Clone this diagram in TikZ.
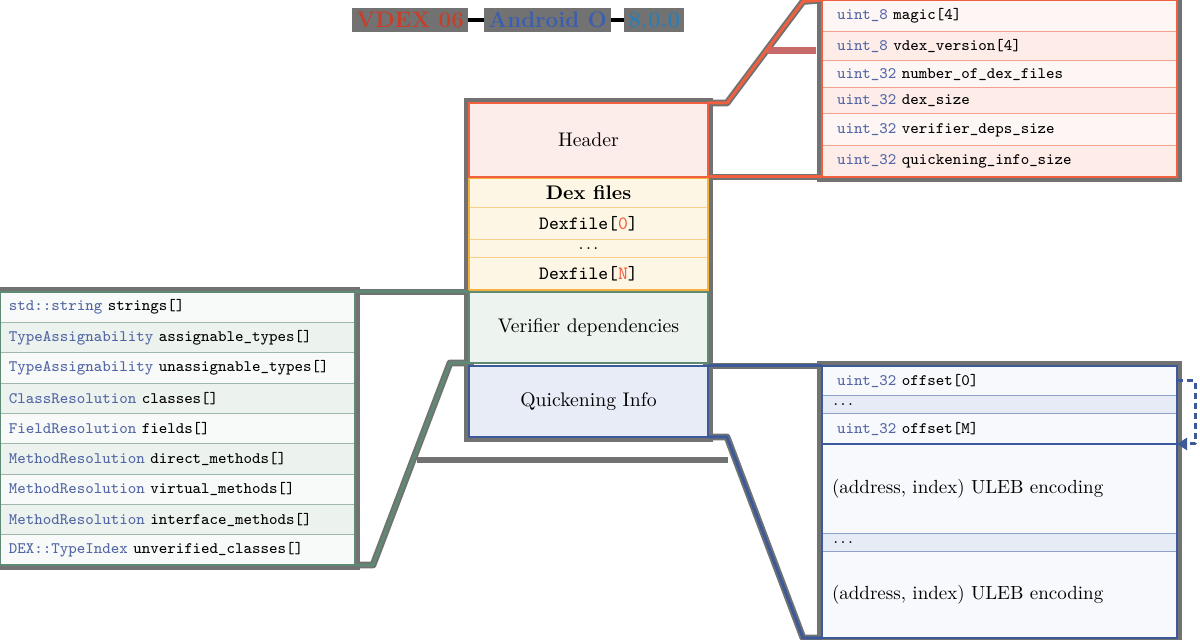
\documentclass[tikz,border=0pt]{standalone}
\usetikzlibrary{arrows.meta}
\definecolor{hdr}{HTML}{F0603F}
\definecolor{hdrsep}{HTML}{F4A08C}
\definecolor{hdrA}{HTML}{FEF6F4}
\definecolor{hdrB}{HTML}{FDECE8}
\definecolor{hdrfill}{HTML}{FDEDEA}
\definecolor{dexline}{HTML}{F5B23C}
\definecolor{dexsep}{HTML}{F7D089}
\definecolor{dexfill}{HTML}{FDF6E4}
\definecolor{ver}{HTML}{5E8A74}
\definecolor{versep}{HTML}{9DB8AB}
\definecolor{verA}{HTML}{F8FAF9}
\definecolor{verB}{HTML}{ECF2EE}
\definecolor{verfill}{HTML}{EDF3EF}
\definecolor{qi}{HTML}{3C5A9A}
\definecolor{qisep}{HTML}{8FA1CB}
\definecolor{qiA}{HTML}{F8F9FD}
\definecolor{qiB}{HTML}{E6EBF5}
\definecolor{qifill}{HTML}{E8ECF6}
\definecolor{typ}{HTML}{5266A5}
\definecolor{halo}{HTML}{727272}
\definecolor{redbar}{HTML}{C96A6A}
\definecolor{vdexred}{HTML}{C5402A}
\definecolor{andblue}{HTML}{3A5FB0}
\definecolor{vertea}{HTML}{2E7DAF}
\newcommand{\tyc}[1]{\textcolor{typ}{#1}}
\pgfdeclarelayer{bg}
\pgfsetlayers{bg,main}
\begin{document}
\begin{tikzpicture}[x=0.5pt,y=-0.5pt,
  base/.style={rectangle, anchor=north west, inner sep=0pt, outer sep=0pt},
  stk/.style={base, minimum width=119.5pt, font=\fontsize{9.85}{12}\selectfont, line width=0.5pt},
  trow/.style={base, minimum width=177.5pt, text width=162.5pt, align=left, inner xsep=7.5pt, font=\fontsize{8}{10}\selectfont\ttfamily, line width=0.5pt},
  ltrow/.style={trow, inner xsep=4.5pt, text width=168.5pt, minimum height=15.17pt, draw=versep},
  hrow/.style={trow, draw=hdrsep},
  rrow/.style={trow, draw=qisep},
  rrowb/.style={rrow, inner xsep=5pt, text width=167.5pt},
  titlebox/.style={fill=halo, inner xsep=2pt, inner ysep=0pt, minimum height=12pt, anchor=west, font=\fontsize{11.2}{13}\selectfont\bfseries},
  boxhalo/.style={halo, line width=5pt},
  connhalo/.style={halo, line width=3.4pt, line join=round},
  conn/.style={line width=1.5pt, line join=round},
  outer/.style={line width=1.25pt}
]
\useasboundingbox (0,0) rectangle (1200,640);

% title
\node[titlebox, text=vdexred] (t1) at (352,20) {VDEX 06};
\node[titlebox, text=andblue] (t2) at (484,20) {Android O};
\node[titlebox, text=vertea] (t3) at (624,20) {8.0.0};
\draw[line width=2.2pt] (t1.east) -- (t2.west);
\draw[line width=2.2pt] (t2.east) -- (t3.west);

% main stack
\node[stk, fill=hdrfill, draw=hdr, minimum height=37pt] (hdr) at (469,103) {Header};
\node[stk, fill=dexfill, draw=dexsep, minimum height=15pt] (d1) at (469,178) {\bfseries Dex files};
\node[stk, fill=dexfill, draw=dexsep, minimum height=16pt, font=\fontsize{9.4}{11}\selectfont\ttfamily] (d2) at (469,208) {Dexfile[\textcolor{hdr}{0}]};
\node[stk, fill=dexfill, draw=dexsep, minimum height=9pt, font=\fontsize{7}{8}\selectfont\ttfamily] (d3) at (469,240) {...};
\node[stk, fill=dexfill, draw=dexsep, minimum height=16pt, font=\fontsize{9.4}{11}\selectfont\ttfamily] (d4) at (469,258) {Dexfile[\textcolor{hdr}{N}]};
\draw[dexline, outer] (d1.north west) rectangle (d4.south east);
\node[stk, fill=verfill, draw=ver, minimum height=35.5pt] (ver) at (469,292) {Verifier dependencies};
\node[stk, fill=qifill, draw=qi, minimum height=35.5pt] (qk) at (469,366) {Quickening Info};
\draw[hdr, outer] (hdr.north west) rectangle (hdr.south east);
\draw[ver, outer] (ver.north west) rectangle (ver.south east);
\draw[qi, outer] (qk.north west) rectangle (qk.south east);

% header table
\node[hrow, fill=hdrA, minimum height=16pt] (h1) at (822,0) {\tyc{uint\_8} magic[4]};
\node[hrow, fill=hdrB, minimum height=14.5pt] (h2) at (822,32) {\tyc{uint\_8} vdex\_version[4]};
\node[hrow, fill=hdrA, minimum height=13.5pt] (h3) at (822,61) {\tyc{uint\_32} number\_of\_dex\_files};
\node[hrow, fill=hdrB, minimum height=13pt] (h4) at (822,88) {\tyc{uint\_32} dex\_size};
\node[hrow, fill=hdrA, minimum height=16pt] (h5) at (822,114) {\tyc{uint\_32} verifier\_deps\_size};
\node[hrow, fill=hdrB, minimum height=15.5pt] (h6) at (822,146) {\tyc{uint\_32} quickening\_info\_size};
\draw[hdr, outer] (h1.north west) rectangle (h6.south east);

% left table
\node[ltrow, fill=verA] (l1) at (0,292) {\tyc{std::string} strings[]};
\node[ltrow, fill=verB] (l2) at (l1.south west) {\tyc{TypeAssignability} assignable\_types[]};
\node[ltrow, fill=verA] (l3) at (l2.south west) {\tyc{TypeAssignability} unassignable\_types[]};
\node[ltrow, fill=verB] (l4) at (l3.south west) {\tyc{ClassResolution} classes[]};
\node[ltrow, fill=verA] (l5) at (l4.south west) {\tyc{FieldResolution} fields[]};
\node[ltrow, fill=verB] (l6) at (l5.south west) {\tyc{MethodResolution} direct\_methods[]};
\node[ltrow, fill=verA] (l7) at (l6.south west) {\tyc{MethodResolution} virtual\_methods[]};
\node[ltrow, fill=verB] (l8) at (l7.south west) {\tyc{MethodResolution} interface\_methods[]};
\node[ltrow, fill=verA] (l9) at (l8.south west) {\tyc{DEX::TypeIndex} unverified\_classes[]};
\draw[ver, outer] (l1.north west) rectangle (l9.south east);

% right table
\node[rrow, fill=qiA, minimum height=15pt] (r1) at (822,366) {\tyc{uint\_32} offset[0]};
\node[rrowb, fill=qiB, minimum height=9pt, font=\fontsize{7}{8}\selectfont\ttfamily] (r2) at (822,396) {...};
\node[rrow, fill=qiA, minimum height=15pt] (r3) at (822,414) {\tyc{uint\_32} offset[M]};
\node[rrowb, fill=qiA, minimum height=45pt, font=\fontsize{9.5}{11}\selectfont] (r4) at (822,444) {(address, index) ULEB encoding};
\node[rrowb, fill=qiB, minimum height=9pt, font=\fontsize{7}{8}\selectfont\ttfamily] (r5) at (822,534) {...};
\node[rrowb, fill=qiA, minimum height=43pt, font=\fontsize{9.5}{11}\selectfont] (r6) at (822,552) {(address, index) ULEB encoding};
\draw[qi, outer] (r1.north west) rectangle (r6.south east);
\draw[qi, outer] (r4.north west) -- (r4.north east);

% connector bend points
\coordinate (hk1) at (727,103);
\coordinate (hk2) at (803,1.5);
\coordinate (gk1) at (450,363);
\coordinate (gk2) at (373,565);
\coordinate (bk1) at (727,437);
\coordinate (bk2) at (803,638);
\coordinate (ak1) at (1195,381);
\coordinate (ak2) at (1195,444);

% halos
\begin{pgfonlayer}{bg}
\draw[boxhalo] (hdr.north west) rectangle (qk.south east);
\draw[boxhalo] (h1.north west) rectangle (h6.south east);
\draw[boxhalo] (l1.north west) rectangle (l9.south east);
\draw[boxhalo] (r1.north west) rectangle (r6.south east);
\draw[connhalo] (hdr.north east) -- (hk1) -- (hk2) -- (h1.north west);
\draw[connhalo] (hdr.south east) -- (h6.south west);
\draw[connhalo] (l1.north east) -- (ver.north west);
\draw[connhalo] (ver.south west) -- (gk1) -- (gk2) -- (l9.south east);
\draw[connhalo] (qk.north east) -- (r1.north west);
\draw[connhalo] (qk.south east) -- (bk1) -- (bk2) -- (r6.south west);
\draw[redbar, line width=3.5pt] (767,51) -- (816,51);
\draw[halo, line width=3pt] (417,460) -- (728,460);
\end{pgfonlayer}

% connectors
\draw[conn, hdr] (hdr.north east) -- (hk1) -- (hk2) -- (h1.north west);
\draw[conn, hdr] (hdr.south east) -- (h6.south west);
\draw[conn, ver] (l1.north east) -- (ver.north west);
\draw[conn, ver] (ver.south west) -- (gk1) -- (gk2) -- (l9.south east);
\draw[conn, qi] (qk.north east) -- (r1.north west);
\draw[conn, qi] (qk.south east) -- (bk1) -- (bk2) -- (r6.south west);
\draw[conn, qi, dash pattern=on 3pt off 2pt, -{Triangle[length=5pt,width=6pt]}] (r1.east) -- (ak1) -- (ak2) -- (r4.north east);
\end{tikzpicture}
\end{document}
